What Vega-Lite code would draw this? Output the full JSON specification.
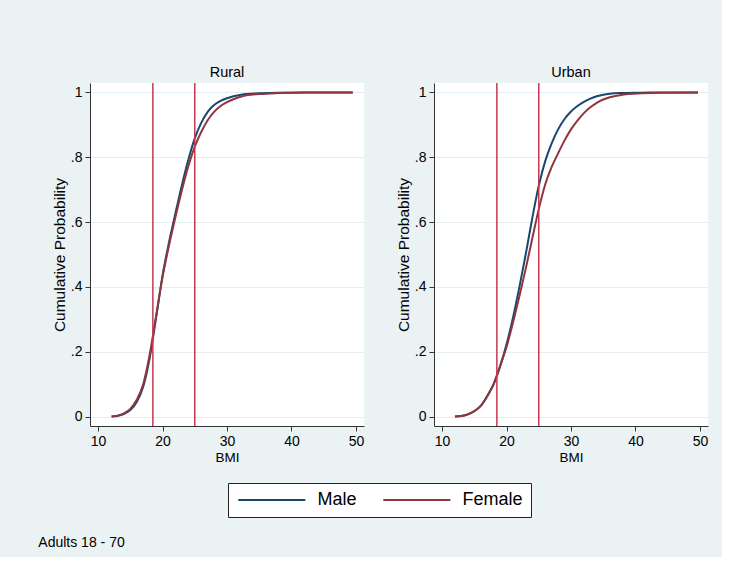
{
  "$schema": "https://vega.github.io/schema/vega-lite/v6.json",
  "background": "#eaf2f4",
  "padding": {"left": 38, "top": 64, "right": 14, "bottom": 7},
  "data": {"values": [
    {"area":"Rural","sex":"Male","bmi":12.1,"prob":0},
    {"area":"Rural","sex":"Male","bmi":13,"prob":0.002},
    {"area":"Rural","sex":"Male","bmi":14,"prob":0.008},
    {"area":"Rural","sex":"Male","bmi":15,"prob":0.02},
    {"area":"Rural","sex":"Male","bmi":16,"prob":0.045},
    {"area":"Rural","sex":"Male","bmi":17,"prob":0.092},
    {"area":"Rural","sex":"Male","bmi":18,"prob":0.18},
    {"area":"Rural","sex":"Male","bmi":19,"prob":0.305},
    {"area":"Rural","sex":"Male","bmi":20,"prob":0.435},
    {"area":"Rural","sex":"Male","bmi":21,"prob":0.537},
    {"area":"Rural","sex":"Male","bmi":22,"prob":0.627},
    {"area":"Rural","sex":"Male","bmi":23,"prob":0.714},
    {"area":"Rural","sex":"Male","bmi":24,"prob":0.792},
    {"area":"Rural","sex":"Male","bmi":25,"prob":0.858},
    {"area":"Rural","sex":"Male","bmi":26,"prob":0.906},
    {"area":"Rural","sex":"Male","bmi":27,"prob":0.94},
    {"area":"Rural","sex":"Male","bmi":28,"prob":0.961},
    {"area":"Rural","sex":"Male","bmi":29,"prob":0.974},
    {"area":"Rural","sex":"Male","bmi":30,"prob":0.982},
    {"area":"Rural","sex":"Male","bmi":31,"prob":0.988},
    {"area":"Rural","sex":"Male","bmi":32,"prob":0.992},
    {"area":"Rural","sex":"Male","bmi":33,"prob":0.995},
    {"area":"Rural","sex":"Male","bmi":35,"prob":0.997},
    {"area":"Rural","sex":"Male","bmi":38,"prob":0.999},
    {"area":"Rural","sex":"Male","bmi":42,"prob":1},
    {"area":"Rural","sex":"Male","bmi":49.5,"prob":1},
    {"area":"Rural","sex":"Female","bmi":12.1,"prob":0},
    {"area":"Rural","sex":"Female","bmi":13,"prob":0.003},
    {"area":"Rural","sex":"Female","bmi":14,"prob":0.01},
    {"area":"Rural","sex":"Female","bmi":15,"prob":0.024},
    {"area":"Rural","sex":"Female","bmi":16,"prob":0.052},
    {"area":"Rural","sex":"Female","bmi":17,"prob":0.1},
    {"area":"Rural","sex":"Female","bmi":18,"prob":0.19},
    {"area":"Rural","sex":"Female","bmi":19,"prob":0.31},
    {"area":"Rural","sex":"Female","bmi":20,"prob":0.43},
    {"area":"Rural","sex":"Female","bmi":21,"prob":0.528},
    {"area":"Rural","sex":"Female","bmi":22,"prob":0.615},
    {"area":"Rural","sex":"Female","bmi":23,"prob":0.698},
    {"area":"Rural","sex":"Female","bmi":24,"prob":0.772},
    {"area":"Rural","sex":"Female","bmi":25,"prob":0.833},
    {"area":"Rural","sex":"Female","bmi":26,"prob":0.878},
    {"area":"Rural","sex":"Female","bmi":27,"prob":0.914},
    {"area":"Rural","sex":"Female","bmi":28,"prob":0.94},
    {"area":"Rural","sex":"Female","bmi":29,"prob":0.958},
    {"area":"Rural","sex":"Female","bmi":30,"prob":0.97},
    {"area":"Rural","sex":"Female","bmi":31,"prob":0.979},
    {"area":"Rural","sex":"Female","bmi":32,"prob":0.986},
    {"area":"Rural","sex":"Female","bmi":33,"prob":0.991},
    {"area":"Rural","sex":"Female","bmi":35,"prob":0.995},
    {"area":"Rural","sex":"Female","bmi":38,"prob":0.998},
    {"area":"Rural","sex":"Female","bmi":42,"prob":1},
    {"area":"Rural","sex":"Female","bmi":49.5,"prob":1},
    {"area":"Urban","sex":"Male","bmi":12,"prob":0},
    {"area":"Urban","sex":"Male","bmi":13,"prob":0.002},
    {"area":"Urban","sex":"Male","bmi":14,"prob":0.007},
    {"area":"Urban","sex":"Male","bmi":15,"prob":0.017},
    {"area":"Urban","sex":"Male","bmi":16,"prob":0.033},
    {"area":"Urban","sex":"Male","bmi":17,"prob":0.063},
    {"area":"Urban","sex":"Male","bmi":18,"prob":0.1},
    {"area":"Urban","sex":"Male","bmi":19,"prob":0.155},
    {"area":"Urban","sex":"Male","bmi":20,"prob":0.223},
    {"area":"Urban","sex":"Male","bmi":21,"prob":0.305},
    {"area":"Urban","sex":"Male","bmi":22,"prob":0.4},
    {"area":"Urban","sex":"Male","bmi":23,"prob":0.503},
    {"area":"Urban","sex":"Male","bmi":24,"prob":0.613},
    {"area":"Urban","sex":"Male","bmi":25,"prob":0.712},
    {"area":"Urban","sex":"Male","bmi":26,"prob":0.788},
    {"area":"Urban","sex":"Male","bmi":27,"prob":0.843},
    {"area":"Urban","sex":"Male","bmi":28,"prob":0.886},
    {"area":"Urban","sex":"Male","bmi":29,"prob":0.918},
    {"area":"Urban","sex":"Male","bmi":30,"prob":0.941},
    {"area":"Urban","sex":"Male","bmi":31,"prob":0.958},
    {"area":"Urban","sex":"Male","bmi":32,"prob":0.971},
    {"area":"Urban","sex":"Male","bmi":33,"prob":0.981},
    {"area":"Urban","sex":"Male","bmi":34,"prob":0.988},
    {"area":"Urban","sex":"Male","bmi":35,"prob":0.993},
    {"area":"Urban","sex":"Male","bmi":36,"prob":0.996},
    {"area":"Urban","sex":"Male","bmi":38,"prob":0.998},
    {"area":"Urban","sex":"Male","bmi":41,"prob":0.999},
    {"area":"Urban","sex":"Male","bmi":44,"prob":1},
    {"area":"Urban","sex":"Male","bmi":49.7,"prob":1},
    {"area":"Urban","sex":"Female","bmi":12,"prob":0},
    {"area":"Urban","sex":"Female","bmi":13,"prob":0.002},
    {"area":"Urban","sex":"Female","bmi":14,"prob":0.007},
    {"area":"Urban","sex":"Female","bmi":15,"prob":0.017},
    {"area":"Urban","sex":"Female","bmi":16,"prob":0.033},
    {"area":"Urban","sex":"Female","bmi":17,"prob":0.063},
    {"area":"Urban","sex":"Female","bmi":18,"prob":0.1},
    {"area":"Urban","sex":"Female","bmi":19,"prob":0.156},
    {"area":"Urban","sex":"Female","bmi":20,"prob":0.215},
    {"area":"Urban","sex":"Female","bmi":21,"prob":0.29},
    {"area":"Urban","sex":"Female","bmi":22,"prob":0.372},
    {"area":"Urban","sex":"Female","bmi":23,"prob":0.458},
    {"area":"Urban","sex":"Female","bmi":24,"prob":0.55},
    {"area":"Urban","sex":"Female","bmi":25,"prob":0.64},
    {"area":"Urban","sex":"Female","bmi":26,"prob":0.716},
    {"area":"Urban","sex":"Female","bmi":27,"prob":0.77},
    {"area":"Urban","sex":"Female","bmi":28,"prob":0.812},
    {"area":"Urban","sex":"Female","bmi":29,"prob":0.852},
    {"area":"Urban","sex":"Female","bmi":30,"prob":0.886},
    {"area":"Urban","sex":"Female","bmi":31,"prob":0.913},
    {"area":"Urban","sex":"Female","bmi":32,"prob":0.936},
    {"area":"Urban","sex":"Female","bmi":33,"prob":0.954},
    {"area":"Urban","sex":"Female","bmi":34,"prob":0.968},
    {"area":"Urban","sex":"Female","bmi":35,"prob":0.978},
    {"area":"Urban","sex":"Female","bmi":36,"prob":0.985},
    {"area":"Urban","sex":"Female","bmi":38,"prob":0.993},
    {"area":"Urban","sex":"Female","bmi":41,"prob":0.997},
    {"area":"Urban","sex":"Female","bmi":44,"prob":0.999},
    {"area":"Urban","sex":"Female","bmi":49.7,"prob":1},
    {"area":"Rural","cut":18.5},
    {"area":"Rural","cut":25},
    {"area":"Urban","cut":18.5},
    {"area":"Urban","cut":25}
  ]},
  "facet": {
    "column": {
      "field": "area", "type": "nominal",
      "header": {"title": null, "labelFontSize": 14.5, "labelColor": "#000", "labelPadding": 2, "labelFont": "Liberation Sans"}
    }
  },
  "spacing": 32,
  "spec": {
    "width": 274,
    "height": 343,
    "layer": [
      {
        "transform": [{"filter": "isValid(datum.prob)"}],
        "mark": {"type": "line", "strokeWidth": 2, "interpolate": "monotone", "clip": true},
        "encoding": {
          "x": {
            "field": "bmi", "type": "quantitative", "title": "BMI",
            "scale": {"domain": [8.75, 51.25], "nice": false, "zero": false},
            "axis": {"values": [10, 20, 30, 40, 50], "grid": false}
          },
          "y": {
            "field": "prob", "type": "quantitative", "title": "Cumulative Probability",
            "scale": {"domain": [-0.029, 1.029], "nice": false, "zero": false},
            "axis": {
              "values": [0, 0.2, 0.4, 0.6, 0.8, 1],
              "labelExpr": "datum.value == 0 ? '0' : datum.value == 1 ? '1' : '.' + round(datum.value * 10)",
              "grid": true
            }
          },
          "color": {
            "field": "sex", "type": "nominal",
            "scale": {"domain": ["Male", "Female"], "range": ["#1a476f", "#90353b"]},
            "legend": {
              "title": null, "orient": "none", "legendX": 138, "legendY": 400, "direction": "horizontal",
              "symbolType": "M-1,0H9", "symbolSize": 180, "symbolStrokeWidth": 2,
              "labelFontSize": 18, "labelColor": "#000", "labelOffset": 63.6,
              "columnPadding": 22, "padding": 8,
              "fillColor": "#ffffff", "strokeColor": "#222222"
            }
          },
          "order": {"field": "bmi", "type": "quantitative"}
        }
      },
      {
        "transform": [{"filter": "isValid(datum.cut)"}],
        "mark": {"type": "rule", "color": "#c8384f", "strokeWidth": 1.5},
        "encoding": {
          "x": {"field": "cut", "type": "quantitative"}
        }
      }
    ]
  },
  "resolve": {"axis": {"y": "independent", "x": "independent"}},
  "title": {
    "text": "Adults 18 - 70", "orient": "bottom", "anchor": "start",
    "fontSize": 14, "fontWeight": "normal", "color": "#000", "offset": 18, "dx": -14
  },
  "config": {
    "font": "Liberation Sans",
    "view": {"fill": "#ffffff", "stroke": null},
    "axis": {
      "domainColor": "#333333", "tickColor": "#333333", "tickSize": 5,
      "labelFontSize": 14, "labelColor": "#000", "labelPadding": 3,
      "titleFontSize": 15.5, "titleFontWeight": "normal", "titleColor": "#000",
      "gridColor": "#e4eef1", "gridWidth": 1
    },
    "axisX": {"titlePadding": 2, "titleFontSize": 13.5},
    "axisY": {"titlePadding": 3}
  }
}
